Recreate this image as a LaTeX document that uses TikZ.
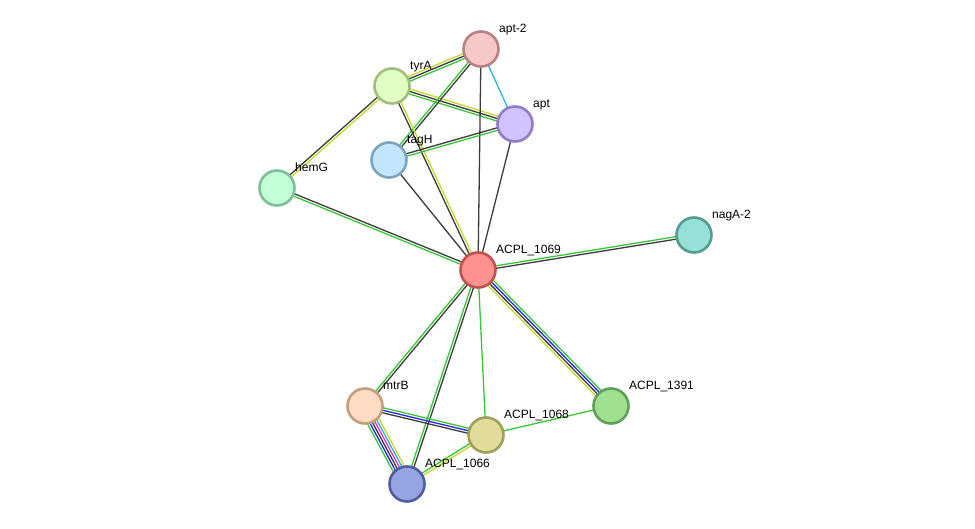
\documentclass[tikz,border=0pt]{standalone}
\usepackage{fontspec}
\setmainfont{Liberation Sans}
\usetikzlibrary{calc}
\pgfdeclarelayer{edges}
\pgfsetlayers{edges,main}
% edge colours
\definecolor{eGreen}{RGB}{55,200,55}
\definecolor{eBlack}{RGB}{60,60,60}
\definecolor{eYellow}{RGB}{200,215,40}
\definecolor{eBlue}{RGB}{40,40,240}
\definecolor{eCyan}{RGB}{40,180,220}
\definecolor{eMagenta}{RGB}{220,50,220}
% node colours
\definecolor{fAptTwo}{RGB}{248,200,200}\definecolor{dAptTwo}{RGB}{185,130,130}
\definecolor{fTyrA}{RGB}{225,255,195}\definecolor{dTyrA}{RGB}{160,190,125}
\definecolor{fApt}{RGB}{210,195,255}\definecolor{dApt}{RGB}{145,125,200}
\definecolor{fTagH}{RGB}{195,230,255}\definecolor{dTagH}{RGB}{125,165,195}
\definecolor{fHemG}{RGB}{195,255,215}\definecolor{dHemG}{RGB}{125,190,155}
\definecolor{fNagA}{RGB}{150,225,215}\definecolor{dNagA}{RGB}{85,155,145}
\definecolor{fA1069}{RGB}{255,145,145}\definecolor{dA1069}{RGB}{195,80,80}
\definecolor{fMtrB}{RGB}{255,220,195}\definecolor{dMtrB}{RGB}{195,160,125}
\definecolor{fA1068}{RGB}{225,220,155}\definecolor{dA1068}{RGB}{160,160,90}
\definecolor{fA1391}{RGB}{160,225,145}\definecolor{dA1391}{RGB}{95,160,90}
\definecolor{fA1066}{RGB}{150,165,225}\definecolor{dA1066}{RGB}{80,95,160}
\newcommand{\medge}[4]{%
  \foreach \ec [count=\ei] in {#4}{%
    \pgfmathsetmacro{\eoff}{((#3-1)/2-(\ei-1))*2.5}%
    \draw[edgeline, color=\ec] ($(#1.center)!\eoff pt!90:(#2.center)$) -- ($(#2.center)!\eoff pt!-90:(#1.center)$);
  }}
\begin{document}
\begin{tikzpicture}[x=1pt,y=-1pt,
  prot/.style={circle, minimum size=35pt, inner sep=0pt, line width=2.6pt},
  lbl/.style={anchor=base west, inner sep=0pt, font=\fontsize{12}{14}\selectfont},
  edgeline/.style={line width=1.3pt}]
\useasboundingbox (0,0) rectangle (975,529);
% proteins
\node[prot, fill=fAptTwo, draw=dAptTwo] (apt2) at (481,49) {};
\node[prot, fill=fTyrA, draw=dTyrA] (tyrA) at (392,86) {};
\node[prot, fill=fApt, draw=dApt] (apt) at (515,124) {};
\node[prot, fill=fTagH, draw=dTagH] (tagH) at (389,160) {};
\node[prot, fill=fHemG, draw=dHemG] (hemG) at (277,188) {};
\node[prot, fill=fNagA, draw=dNagA] (nagA) at (694,235) {};
\node[prot, fill=fA1069, draw=dA1069] (a1069) at (478,270) {};
\node[prot, fill=fMtrB, draw=dMtrB] (mtrB) at (365,406) {};
\node[prot, fill=fA1068, draw=dA1068] (a1068) at (486,435) {};
\node[prot, fill=fA1391, draw=dA1391] (a1391) at (611,406) {};
\node[prot, fill=fA1066, draw=dA1066] (a1066) at (407,484) {};
% labels
\node[lbl] (apt2l) at (499,32.5) {apt-2};
\node[lbl] (tyrAl) at (410,69.5) {tyrA};
\node[lbl] (aptl) at (533,107.5) {apt};
\node[lbl] (tagHl) at (407,143.5) {tagH};
\node[lbl] (hemGl) at (295,171.5) {hemG};
\node[lbl] (nagAl) at (712,218.5) {nagA-2};
\node[lbl] (a1069l) at (496,253.5) {ACPL\_1069};
\node[lbl] (mtrBl) at (383,389.5) {mtrB};
\node[lbl] (a1068l) at (504,418.5) {ACPL\_1068};
\node[lbl] (a1391l) at (629,389.5) {ACPL\_1391};
\node[lbl] (a1066l) at (425,467.5) {ACPL\_1066};
% interactions
\begin{pgfonlayer}{edges}
\fill[white] (0,0) rectangle (975,529);
\medge{tyrA}{apt2}{3}{eYellow,eBlack,eGreen}
\medge{tyrA}{apt}{3}{eYellow,eBlack,eGreen}
\medge{apt2}{apt}{1}{eCyan}
\medge{apt2}{tagH}{2}{eBlack,eGreen}
\medge{apt2}{a1069}{1}{eBlack}
\medge{tyrA}{hemG}{2}{eYellow,eBlack}
\medge{tyrA}{a1069}{2}{eYellow,eBlack}
\medge{tagH}{apt}{2}{eBlack,eGreen}
\medge{tagH}{a1069}{1}{eBlack}
\medge{apt}{a1069}{1}{eBlack}
\medge{hemG}{a1069}{2}{eBlack,eGreen}
\medge{a1069}{nagA}{2}{eGreen,eBlack}
\medge{a1069}{a1391}{4}{eGreen,eBlue,eBlack,eYellow}
\medge{a1069}{a1068}{1}{eGreen}
\medge{a1069}{mtrB}{2}{eBlack,eGreen}
\medge{a1069}{a1066}{2}{eBlack,eGreen}
\medge{mtrB}{a1068}{3}{eGreen,eBlue,eBlack}
\medge{mtrB}{a1066}{6}{eYellow,eCyan,eMagenta,eBlack,eBlue,eGreen}
\medge{a1068}{a1066}{2}{eYellow,eGreen}
\medge{a1068}{a1391}{1}{eGreen}
\end{pgfonlayer}
\end{tikzpicture}
\end{document}
